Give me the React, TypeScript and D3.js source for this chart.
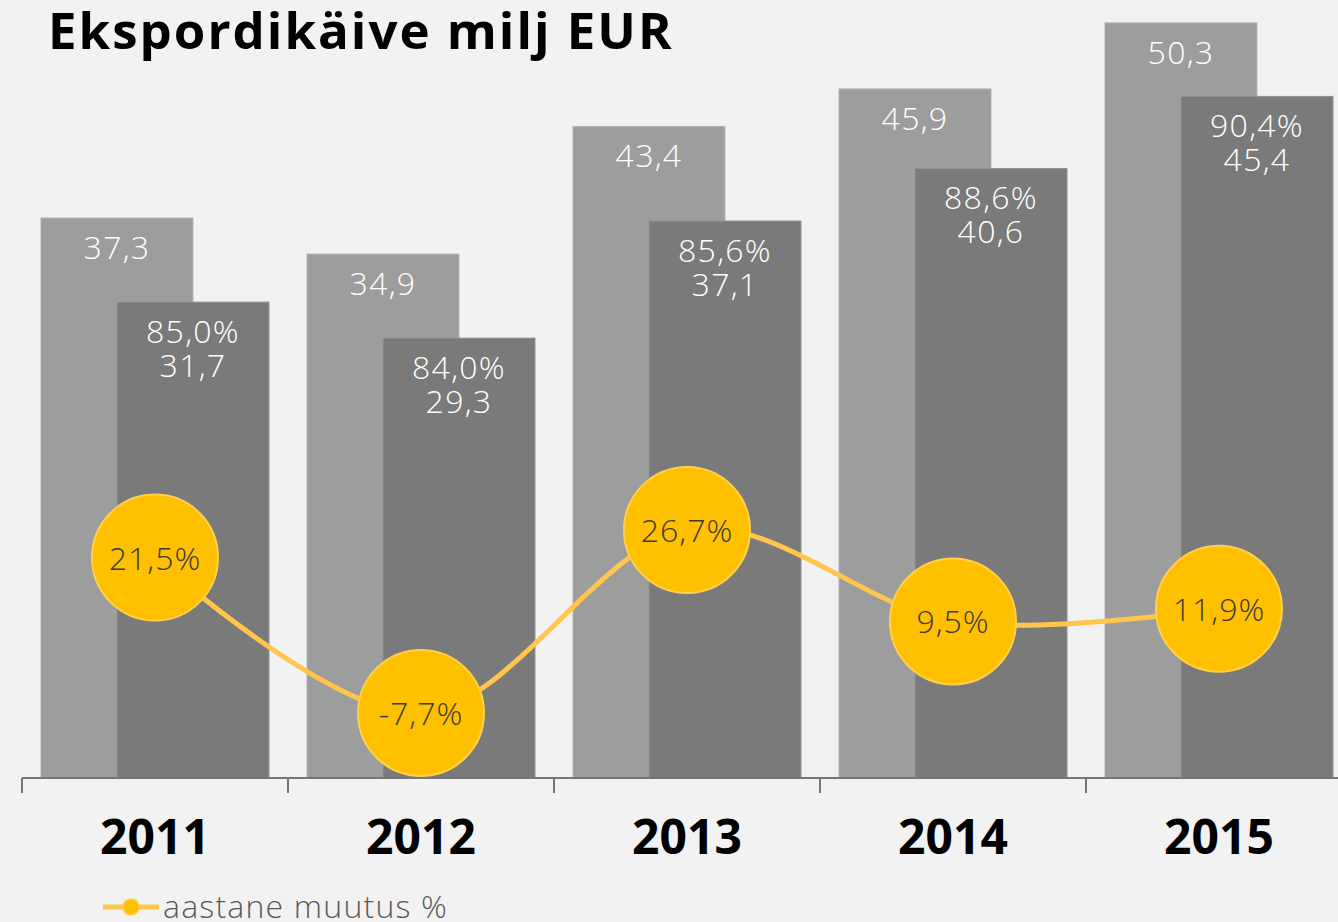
import React, { useEffect } from "react";
import * as d3 from "d3";

const years = ["2011", "2012", "2013", "2014", "2015"];
const totalExports = [37.3, 34.9, 43.4, 45.9, 50.3];
const ownExports = [31.7, 29.3, 37.1, 40.6, 45.4];
const sharePct = [85.0, 84.0, 85.6, 88.6, 90.4];
const annualChange = [21.5, -7.7, 26.7, 9.5, 11.9];

const TITLE = "Ekspordikäive milj EUR";
const LEGEND = "aastane muutus %";

const W = 1338;
const H = 922;
const BASE = 778;

const fmt = (v: number) => v.toFixed(1).replace(".", ",");

export default function App() {
  useEffect(() => {
    document.body.style.margin = "0";
    document.body.style.overflow = "hidden";
  }, []);

  const x = d3.scaleBand<string>().domain(years).range([22, 22 + 266 * 5]).padding(0);
  const y = d3.scaleLinear().domain([0, 50]).range([BASE, BASE - 50 * 15.013]);
  const yl = d3.scaleLinear().domain([-10, 30]).range([672 + 53.2, 672 - 159.6]);

  const barW = 152;
  const lightOff = 19;
  const darkOff = 95;

  const pts: [number, number][] = years.map((yr, i) => [
    (x(yr) as number) + x.bandwidth() / 2,
    yl(annualChange[i]),
  ]);
  const line = d3.line().curve(d3.curveCardinal.tension(0))(pts) || "";

  const numFont = "'Open Sans', sans-serif";
  const labelProps = {
    textAnchor: "middle" as const,
    fontFamily: numFont,
    fontWeight: 300,
    fontSize: 32,
    letterSpacing: 1.3,
    fill: "#fff",
  };

  return (
    <svg width={W} height={H} style={{ display: "block", background: "#f2f2f2" }}>
      <rect x={0} y={0} width={W} height={H} fill="#f2f2f2" />
      <text x={48} y={49} fontFamily={numFont} fontWeight={700} fontSize={51} letterSpacing={2} fill="#000">
        {TITLE}
      </text>

      {years.map((yr, i) => {
        const x0 = x(yr) as number;
        return (
          <g key={"b" + yr}>
            <rect
              x={x0 + lightOff}
              y={y(totalExports[i])}
              width={barW}
              height={BASE - y(totalExports[i])}
              fill="#9d9d9d"
              stroke="#b4b4b4"
              strokeWidth={1}
            />
            <text x={x0 + lightOff + barW / 2} y={y(totalExports[i]) + 41} {...labelProps}>
              {fmt(totalExports[i])}
            </text>
          </g>
        );
      })}
      {years.map((yr, i) => {
        const x0 = x(yr) as number;
        return (
          <g key={"d" + yr}>
            <rect
              x={x0 + darkOff}
              y={y(ownExports[i])}
              width={barW}
              height={BASE - y(ownExports[i])}
              fill="#7a7a7a"
              stroke="#929292"
              strokeWidth={1}
            />
            <text x={x0 + darkOff + barW / 2} y={y(ownExports[i]) + 41} {...labelProps}>
              {fmt(sharePct[i]) + "%"}
            </text>
            <text x={x0 + darkOff + barW / 2} y={y(ownExports[i]) + 75} {...labelProps}>
              {fmt(ownExports[i])}
            </text>
          </g>
        );
      })}

      <line x1={22} x2={W} y1={BASE} y2={BASE} stroke="#767676" strokeWidth={2} />
      {d3.range(6).map((k) => (
        <line
          key={"t" + k}
          x1={22 + 266 * k}
          x2={22 + 266 * k}
          y1={BASE}
          y2={BASE + 15}
          stroke="#767676"
          strokeWidth={2}
        />
      ))}
      {years.map((yr) => (
        <text
          key={"y" + yr}
          x={(x(yr) as number) + x.bandwidth() / 2}
          y={854}
          textAnchor="middle"
          fontFamily={numFont}
          fontWeight={700}
          fontSize={48}
          fill="#000"
        >
          {yr}
        </text>
      ))}

      <path d={line} fill="none" stroke="#ffc54d" strokeWidth={5} />
      {pts.map((p, i) => (
        <g key={"c" + i}>
          <circle cx={p[0]} cy={p[1]} r={63} fill="#ffc000" stroke="#ffcf4d" strokeWidth={2} />
          <text
            x={p[0]}
            y={p[1] + 12}
            textAnchor="middle"
            fontFamily={numFont}
            fontWeight={300}
            fontSize={32}
            letterSpacing={1}
            fill="#3c3c3c"
          >
            {fmt(annualChange[i]) + "%"}
          </text>
        </g>
      ))}

      <line x1={103} x2={159} y1={907} y2={907} stroke="#ffc54d" strokeWidth={5} />
      <circle cx={131} cy={907} r={8} fill="#ffc000" stroke="#ffcf4d" strokeWidth={1.5} />
      <text x={163} y={918} fontFamily={numFont} fontWeight={300} fontSize={32} letterSpacing={1.2} fill="#595959">
        {LEGEND}
      </text>
    </svg>
  );
}
